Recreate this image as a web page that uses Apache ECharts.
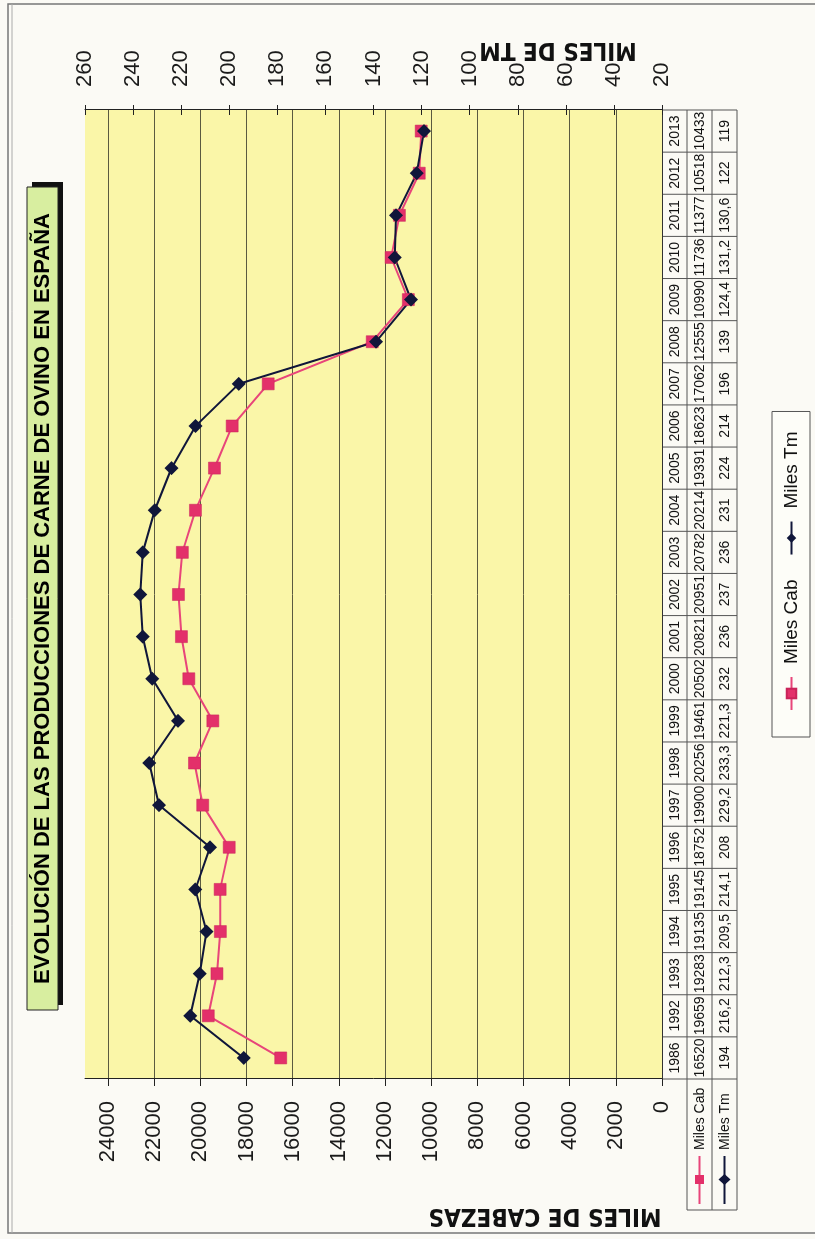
<!DOCTYPE html>
<html>
<head>
<meta charset="utf-8">
<script src="https://cdn.jsdelivr.net/npm/echarts@6/dist/echarts.min.js"></script>
<style>
html,body{margin:0;padding:0;background:#fbfaf5;overflow:hidden;width:815px;height:1239px;}
#chart{position:absolute;left:0;top:0;width:1239px;height:815px;transform-origin:0 0;transform:translate(0,1239px) rotate(-90deg);}
</style>
</head>
<body>
<div id="chart"></div>
<script>
// ---- data ----
const years = ['1986','1992','1993','1994','1995','1996','1997','1998','1999','2000','2001','2002','2003','2004','2005','2006','2007','2008','2009','2010','2011','2012','2013'];
const milesCab = [16520,19659,19283,19135,19145,18752,19900,20256,19461,20502,20821,20951,20782,20214,19391,18623,17062,12555,10990,11736,11377,10518,10433];
const milesTm = [194,216.2,212.3,209.5,214.1,208,229.2,233.3,221.3,232,236,237,236,231,224,214,196,139,124.4,131.2,130.6,122,119];
const seriesNames = ['Miles Cab','Miles Tm'];
const titleText = 'EVOLUCIÓN DE LAS PRODUCCIONES DE CARNE DE OVINO EN ESPAÑA';
const leftAxisTitle = 'MILES DE CABEZAS';
const rightAxisTitle = 'MILES DE TM';

// ---- styles ----
const FONT = "'Liberation Sans', Arial, Helvetica, sans-serif";
const NARROW = "'Liberation Sans Narrow', 'Arial Narrow', 'DejaVu Sans Condensed', sans-serif";
const PINK = '#e3306a';
const PINK_LINE = '#e8457a';
const NAVY = '#10163a';
const TABLE_LINE = '#555';

const chart = echarts.init(document.getElementById('chart'), null, {renderer:'canvas', width:1239, height:815});

const option = {
  animation:false,
  backgroundColor:'transparent',
  grid:{left:160, right:110, top:85, bottom:153, show:true, backgroundColor:'#faf6a8', borderWidth:0},
  xAxis:{
    type:'category', data:years, boundaryGap:true,
    axisLine:{show:true, lineStyle:{color:'#333', width:1}},
    axisTick:{show:false}, axisLabel:{show:false}, splitLine:{show:false}
  },
  yAxis:[
    {
      type:'value', min:0, max:25000, interval:2000, position:'left',
      axisLine:{show:true, lineStyle:{color:'#222', width:1}},
      axisTick:{show:true, length:7, lineStyle:{color:'#222'}},
      axisLabel:{fontSize:22, fontFamily:FONT, color:'#1a1a1a', margin:22, showMaxLabel:false, formatter:v=>String(v)},
      splitLine:{show:true, showMaxLine:false, lineStyle:{color:'#5a5a40', width:1}}
    },
    {
      type:'value', min:20, max:260, interval:20, position:'right',
      axisLine:{show:true, lineStyle:{color:'#222', width:1}},
      axisTick:{show:true, length:5, lineStyle:{color:'#222'}},
      axisLabel:{fontSize:22, fontFamily:FONT, color:'#1a1a1a', margin:23, formatter:v=>String(v)},
      splitLine:{show:false}
    },
    {
      type:'value', min:20, max:260, interval:20, position:'right',
      axisLine:{show:false},
      axisTick:{show:true, inside:true, length:5, lineStyle:{color:'#222'}},
      axisLabel:{show:false}, splitLine:{show:false}
    }
  ],
  legend:{
    left:502, top:772, orient:'horizontal', data:seriesNames,
    itemWidth:33, itemHeight:12, itemGap:24,
    padding:[10,20,9,26],
    borderColor:'#555', borderWidth:1, backgroundColor:'#fdfdf8',
    textStyle:{fontSize:19, fontFamily:FONT, color:'#111', padding:[0,0,0,8]}
  },
  series:[
    {
      name:seriesNames[0], type:'line', yAxisIndex:0, data:milesCab,
      symbol:'rect', symbolSize:12,
      lineStyle:{color:PINK_LINE, width:2},
      itemStyle:{color:PINK, borderColor:'#c9245a', borderWidth:0.5}
    },
    {
      name:seriesNames[1], type:'line', yAxisIndex:1, data:milesTm,
      symbol:'diamond', symbolSize:14,
      lineStyle:{color:NAVY, width:2},
      itemStyle:{color:NAVY}
    }
  ]
};
chart.setOption(option);

// ---- data table, title, axis titles (positioned from the chart's own scales) ----
const n = years.length;
const cx = years.map((y,i)=>chart.convertToPixel({xAxisIndex:0}, i));
const bw = cx[1]-cx[0];
const L = cx[0]-bw/2, R = cx[n-1]+bw/2;
const y0 = chart.convertToPixel({yAxisIndex:0}, 0);
const rowH = 25;
const y1 = y0+rowH, y2 = y1+rowH, y3 = y2+rowH;
const HX = 29;
const g = [];
const fmt = v => String(v).replace('.', ',');

// frame
g.push({type:'rect', shape:{x:6, y:8, width:1229, height:900}, style:{fill:null, stroke:'#777', lineWidth:1.5}, silent:true});
g.push({type:'line', shape:{x1:6, y1:12, x2:1235, y2:12}, style:{stroke:'#aaa', lineWidth:1}, silent:true});

// table lines
for (let k=0;k<=n;k++){
  const x = L + k*bw;
  g.push({type:'line', shape:{x1:x, y1:y0, x2:x, y2:y3}, style:{stroke:TABLE_LINE, lineWidth:1}});
}
[y1,y2,y3].forEach(yy=>g.push({type:'line', shape:{x1:HX, y1:yy, x2:R, y2:yy}, style:{stroke:TABLE_LINE, lineWidth:1}}));
g.push({type:'line', shape:{x1:HX, y1:y1, x2:HX, y2:y3}, style:{stroke:TABLE_LINE, lineWidth:1}});
// table texts
years.forEach((yr,i)=>{
  g.push({type:'text', x:cx[i], y:y0+rowH/2+1, style:{text:yr, fontSize:14, fontFamily:FONT, fill:'#111', align:'center', verticalAlign:'middle'}});
  g.push({type:'text', x:cx[i], y:y1+rowH/2+1, style:{text:String(milesCab[i]), fontSize:14, fontFamily:FONT, fill:'#111', align:'center', verticalAlign:'middle'}});
  g.push({type:'text', x:cx[i], y:y2+rowH/2+1, style:{text:fmt(milesTm[i]), fontSize:14, fontFamily:FONT, fill:'#111', align:'center', verticalAlign:'middle'}});
});
// table header keys
const keyRows = [[y1, PINK_LINE, PINK, 'rect'], [y2, NAVY, NAVY, 'diamond']];
keyRows.forEach((r,j)=>{
  const ym = r[0]+rowH/2;
  g.push({type:'line', shape:{x1:35, y1:ym, x2:83, y2:ym}, style:{stroke:r[1], lineWidth:2}});
  if (r[3]==='rect') g.push({type:'rect', shape:{x:55, y:ym-4.5, width:9, height:9}, style:{fill:r[2]}});
  else g.push({type:'polygon', shape:{points:[[59.5,ym-6],[65,ym],[59.5,ym+6],[54,ym]]}, style:{fill:r[2]}});
  g.push({type:'text', x:89, y:ym+1, style:{text:seriesNames[j], fontSize:14, fontFamily:FONT, fill:'#111', align:'left', verticalAlign:'middle'}});
});

// title box
g.push({type:'rect', shape:{x:234, y:32, width:823, height:31}, style:{fill:'#111'}});
g.push({type:'rect', shape:{x:229, y:27, width:823, height:31}, style:{fill:'#d8eea0', stroke:'#222', lineWidth:1}});
g.push({type:'text', x:640.5, y:43, style:{text:titleText, fontSize:22, fontWeight:'bold', fontFamily:FONT, fill:'#000', align:'center', verticalAlign:'middle'}});

// axis titles
g.push({type:'text', x:24, y:545, rotation:Math.PI/2, style:{text:leftAxisTitle, fontSize:24, fontWeight:'bold', fontFamily:NARROW, fill:'#111', align:'center', verticalAlign:'middle'}});
g.push({type:'text', x:1190, y:558, rotation:Math.PI/2, style:{text:rightAxisTitle, fontSize:24, fontWeight:'bold', fontFamily:NARROW, fill:'#111', align:'center', verticalAlign:'middle'}});

chart.setOption({graphic:{elements:g}});
</script>
</body>
</html>
